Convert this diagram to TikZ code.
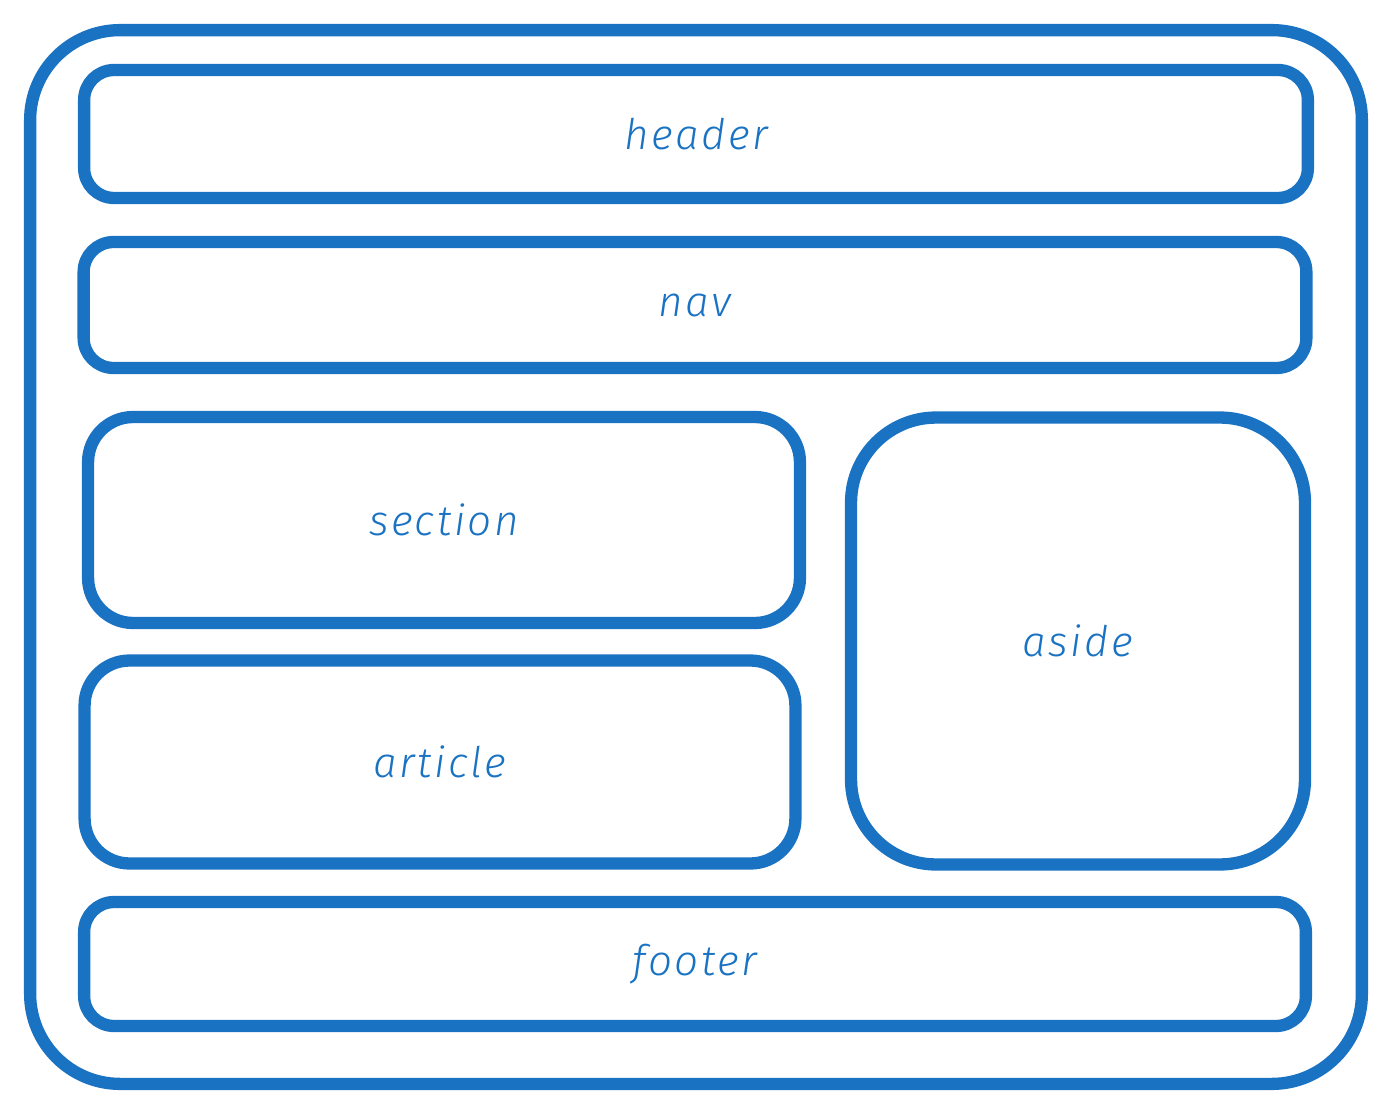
\documentclass[tikz,border=0pt]{standalone}
\usepackage{fontspec}
\usepackage{tikz}
\usetikzlibrary{positioning}
\newfontfamily\boxfont[LetterSpace=6.0]{Fira Sans Light}
\definecolor{layoutblue}{HTML}{1A72C2}
\tikzset{
    layoutbox/.style = {draw = layoutblue, line width = 7pt, rounded corners = 0.6cm,
        text = layoutblue, font = \boxfont\itshape\fontsize{24}{28}\selectfont, inner sep = 0pt},
}

\begin{document}
\begin{tikzpicture}[x = 0.02cm, y = -0.02cm]
    \useasboundingbox (0,0) rectangle (1393,1115);
    \begin{scope}
        \node[layoutbox, rounded corners = 1.8cm, minimum width = 26.64cm, minimum height = 21.08cm] (page) at (696,557) {};
        \node[layoutbox, minimum width = 24.48cm, minimum height = 2.56cm] (header) at (696,134) {header};
        \node[layoutbox, minimum width = 24.46cm, minimum height = 2.52cm] (nav) at (695,305) {nav};
        \node[layoutbox, rounded corners = 0.9cm, minimum width = 14.24cm, minimum height = 4.12cm] (section) at (444,520) {section};
        \node[layoutbox, rounded corners = 0.9cm, minimum width = 14.22cm, minimum height = 4.06cm] (article) at (440,762) {article};
        \node[layoutbox, rounded corners = 1.7cm, minimum width = 9.08cm, minimum height = 8.94cm] (aside) at (1078,641) {aside};
        \node[layoutbox, minimum width = 24.44cm, minimum height = 2.48cm] (footer) at (695,964) {footer};
    \end{scope}
\end{tikzpicture}
\end{document}
